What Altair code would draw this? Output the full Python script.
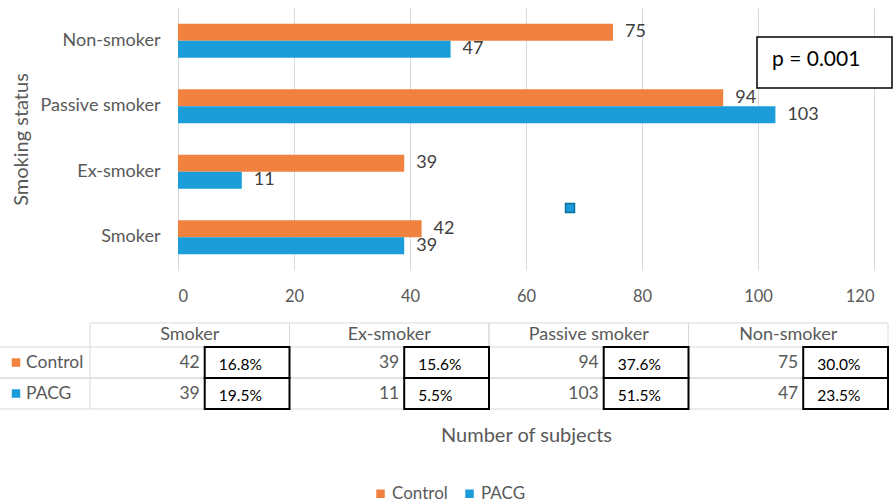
import altair as alt
import pandas as pd

# ---------------- data ----------------
categories = ["Smoker", "Ex-smoker", "Passive smoker", "Non-smoker"]
series = ["Control", "PACG"]
control_counts = [42, 39, 94, 75]
pacg_counts = [39, 11, 103, 47]
control_pct = ["16.8%", "15.6%", "37.6%", "30.0%"]
pacg_pct = ["19.5%", "5.5%", "51.5%", "23.5%"]
x_ticks = [0, 20, 40, 60, 80, 100, 120]
p_text = ["p = 0.001"]
colors = ["#F0813F", "#1A9DD9"]

rows = []
for i, c in enumerate(categories):
    rows.append(dict(category=c, series="Control", count=control_counts[i], pct=control_pct[i]))
    rows.append(dict(category=c, series="PACG", count=pacg_counts[i], pct=pacg_pct[i]))
df = pd.DataFrame(rows)
df_head = pd.DataFrame({"category": categories})
df_series = pd.DataFrame({"series": series})
df_p = pd.DataFrame({"label": p_text})

FONT = "Lato"
GREY = "#595959"
GRID = "#d9d9d9"

y_order = categories[::-1]
xs = alt.Scale(domain=[0, 120], nice=False, zero=True)
ys = alt.Scale(domain=y_order, paddingInner=0.48, paddingOuter=0.24)
yo = alt.Scale(domain=series, paddingInner=0, paddingOuter=0)
cs = alt.Scale(domain=series, range=colors)

# table scales (separate, pixel ranges relative to plot origin)
tx = alt.Scale(domain=categories, range=[-88, 710], paddingInner=0, paddingOuter=0)
ty = alt.Scale(domain=series, range=[339, 401], paddingInner=0, paddingOuter=0)

bars = alt.Chart(df).mark_bar().encode(
    x=alt.X("count:Q", scale=xs,
            axis=alt.Axis(values=x_ticks, grid=True, gridColor=GRID, domain=False, ticks=False,
                          labelPadding=18, labelFontSize=16.5, labelColor=GREY, labelFont=FONT,
                          title="Number of subjects", titleFont=FONT, titleFontSize=20,
                          titleColor=GREY, titleFontWeight="normal", titlePadding=121)),
    y=alt.Y("category:N", sort=y_order, scale=ys,
            axis=alt.Axis(domain=False, ticks=False, grid=False, labelPadding=18,
                          labelFontSize=18, labelColor=GREY, labelFont=FONT,
                          title="Smoking status", titleFont=FONT, titleFontSize=20,
                          titleColor=GREY, titleFontWeight="normal", titlePadding=8)),
    yOffset=alt.YOffset("series:N", sort=series, scale=yo),
    color=alt.Color("series:N", scale=cs,
                    legend=alt.Legend(orient="none", legendX=194, legendY=477, direction="horizontal",
                                      title=None, symbolType="square", symbolSize=72,
                                      symbolStrokeWidth=0, labelFontSize=17, labelFont=FONT,
                                      labelColor=GREY, columnPadding=13, labelOffset=3)),
)

labels = alt.Chart(df).mark_text(align="left", baseline="middle", dx=12, font=FONT,
                                 fontSize=18, color="#404040").encode(
    x=alt.X("count:Q", scale=xs, axis=None),
    y=alt.Y("category:N", sort=y_order, scale=ys, axis=None),
    yOffset=alt.YOffset("series:N", sort=series, scale=yo),
    text="count:Q",
)

# p value box and stray marker
p_box = alt.Chart(df_p).mark_rect(fill="white", stroke="black", strokeWidth=1.5).encode(
    x=alt.value(579), x2=alt.value(714), y=alt.value(29), y2=alt.value(80))
p_lab = alt.Chart(df_p).mark_text(align="left", baseline="middle", font=FONT, fontSize=21,
                                  color="black").encode(
    x=alt.value(594), y=alt.value(52), text="label:N")
stray = alt.Chart(df_p).mark_square(size=81, color=colors[1], stroke="#0E6FA0",
                                    strokeWidth=1.5, opacity=1).encode(
    x=alt.value(392), y=alt.value(200))

# ---------------- data table ----------------
hline_top = alt.Chart(df_head).mark_rule(color=GRID, strokeWidth=1).encode(
    x=alt.X("category:N", scale=tx, axis=None, bandPosition=0),
    x2=alt.X2("category:N", bandPosition=1),
    y=alt.value(315))
hline_rows0 = alt.Chart(df_series).mark_rule(color=GRID, strokeWidth=1).encode(
    x=alt.value(-178), x2=alt.value(710),
    y=alt.Y("series:N", scale=ty, axis=None, bandPosition=0))
hline_rows1 = alt.Chart(df_series).mark_rule(color=GRID, strokeWidth=1).encode(
    x=alt.value(-178), x2=alt.value(710),
    y=alt.Y("series:N", scale=ty, axis=None, bandPosition=1))
vline0 = alt.Chart(df_head).mark_rule(color=GRID, strokeWidth=1).encode(
    x=alt.X("category:N", scale=tx, axis=None, bandPosition=0),
    y=alt.value(315), y2=alt.value(401))
vline1 = alt.Chart(df_head).mark_rule(color=GRID, strokeWidth=1).encode(
    x=alt.X("category:N", scale=tx, axis=None, bandPosition=1),
    y=alt.value(315), y2=alt.value(401))

header = alt.Chart(df_head).mark_text(baseline="middle", font=FONT, fontSize=18,
                                      color=GREY).encode(
    x=alt.X("category:N", scale=tx, axis=None),
    y=alt.value(327), text="category:N")

counts = alt.Chart(df).mark_text(align="right", baseline="middle", dx=10, font=FONT,
                                 fontSize=17.5, color=GREY).encode(
    x=alt.X("category:N", scale=tx, axis=None),
    y=alt.Y("series:N", scale=ty, axis=None), text="count:Q")

boxes = alt.Chart(df).mark_rect(fillOpacity=0, stroke="black", strokeWidth=2).encode(
    x=alt.X("category:N", scale=tx, axis=None, bandPosition=0.575),
    x2=alt.X2("category:N", bandPosition=1),
    y=alt.Y("series:N", scale=ty, axis=None))

pcts = alt.Chart(df).mark_text(align="left", baseline="middle", dx=29, dy=2, font=FONT,
                               fontSize=15.5, color="black").encode(
    x=alt.X("category:N", scale=tx, axis=None),
    y=alt.Y("series:N", scale=ty, axis=None), text="pct:N")

ser_sq = alt.Chart(df_series).mark_square(size=72, opacity=1).encode(
    x=alt.value(-162), y=alt.Y("series:N", scale=ty, axis=None),
    color=alt.Color("series:N", scale=cs, legend=None))
ser_lab = alt.Chart(df_series).mark_text(align="left", baseline="middle", font=FONT,
                                         fontSize=17.5, color=GREY).encode(
    x=alt.value(-152), y=alt.Y("series:N", scale=ty, axis=None), text="series:N")

chart = alt.layer(
    bars, labels, p_box, p_lab, stray,
    hline_top, hline_rows0, hline_rows1, vline0, vline1,
    header, counts, boxes, pcts, ser_sq, ser_lab,
).resolve_scale(x="independent", y="independent").properties(
    width=696, height=262,
    autosize=alt.AutoSizeParams(type="none"),
    padding={"left": 178, "top": 8, "right": 22, "bottom": 234},
    background="white",
).configure_view(stroke=None)

chart.save("out.html", embed_options={"renderer": "svg", "actions": False})
